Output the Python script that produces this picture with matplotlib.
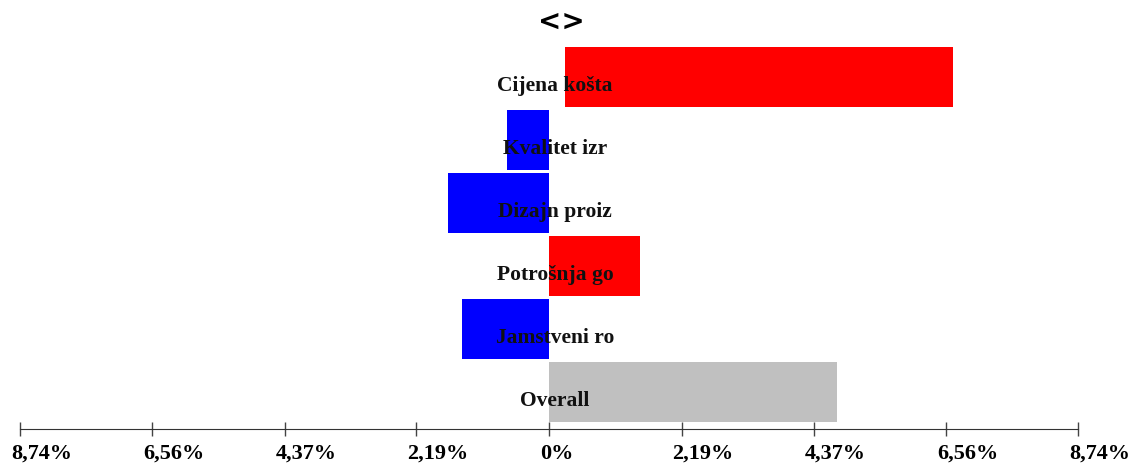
import matplotlib.pyplot as plt
import matplotlib.transforms as mtransforms

# categories top to bottom
labels = ["Cijena košta", "Kvalitet izr", "Dizajn proiz", "Potrošnja go", "Jamstveni ro", "Overall"]
starts = [0.26, 0.0, 0.0, 0.0, 0.0, 0.0]
values = [6.42, -0.69, -1.67, 1.50, -1.44, 4.76]
colors = ["#ff0000", "#0000ff", "#0000ff", "#ff0000", "#0000ff", "#c0c0c0"]

ticks = [-8.74, -6.56, -4.37, -2.19, 0, 2.19, 4.37, 6.56, 8.74]
tick_labels = ["8,74%", "6,56%", "4,37%", "2,19%", "0%", "2,19%", "4,37%", "6,56%", "8,74%"]

plt.rcParams["font.family"] = ["Liberation Serif", "DejaVu Serif"]
plt.rcParams["font.weight"] = "bold"

fig = plt.figure(figsize=(11.28, 4.64), dpi=100)
ax = fig.add_axes([20 / 1128, 1 - 430 / 464, 1058 / 1128, 390 / 464])

ypos = list(range(len(labels)))
ax.barh(ypos, values, left=starts, height=0.95, color=colors)

for y, lab in zip(ypos, labels):
    ax.text(0.1, y + 0.13, lab, ha="center", va="center", fontsize=15.5,
            fontweight="bold", color="#111111")

ax.set_xlim(-8.74, 8.74)
ax.set_ylim(5.587, -0.603)
ax.set_xticks(ticks)
ax.set_xticklabels(tick_labels, fontsize=16, fontweight="bold")
ax.tick_params(axis="x", direction="inout", length=10, width=1, color="#444444", pad=5)
# labels sit a bit to the right of their ticks
shift = mtransforms.ScaledTranslation(-9 / 100, 0, fig.dpi_scale_trans)
for t in ax.get_xticklabels():
    t.set_horizontalalignment("left")
    t.set_transform(t.get_transform() + shift)
ax.set_yticks([])
for side in ["top", "right", "left"]:
    ax.spines[side].set_visible(False)
ax.spines["bottom"].set_color("#333333")

fig.text(561 / 1128, 1 - 22 / 464, "<>", ha="center", va="center", fontsize=20,
         family="DejaVu Sans", fontweight="bold")

fig.savefig("out.png", dpi=100)
